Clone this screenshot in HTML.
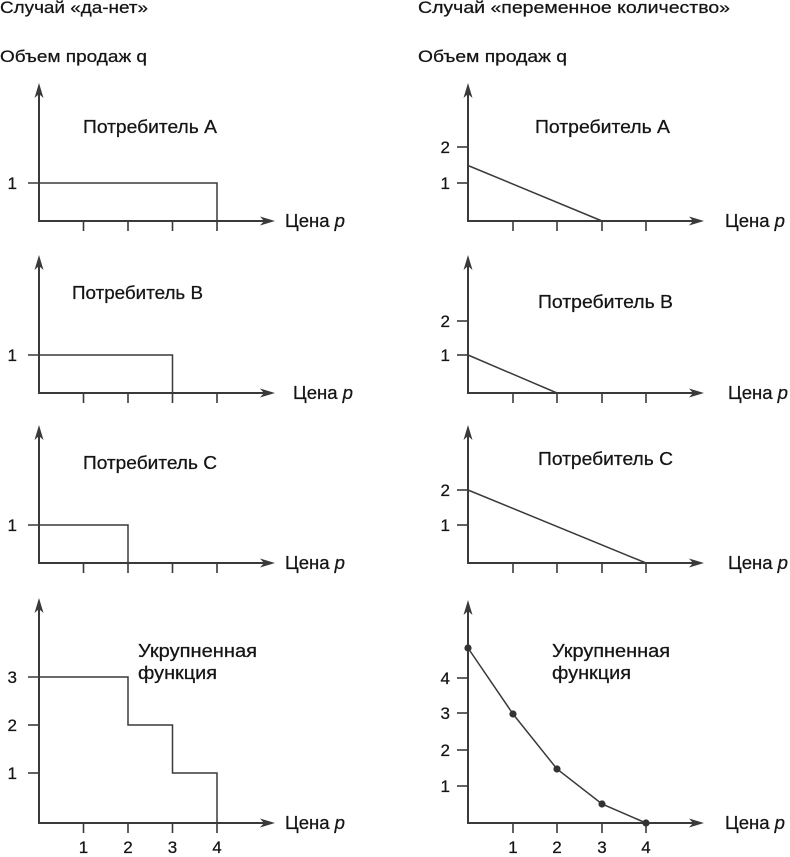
<!DOCTYPE html>
<html>
<head>
<meta charset="utf-8">
<style>
  html, body { margin: 0; padding: 0; background: #ffffff; }
  svg { display: block; }
  text { font-family: "Liberation Sans", "DejaVu Sans", sans-serif; fill: #151515; stroke: #151515; stroke-width: 0.25; }
  .ttl { font-size: 17px; }
  .lbl { font-size: 18px; }
  .num { font-size: 17px; }
  .ax { stroke: #3a3a3a; stroke-width: 2; fill: none; }
  .tk { stroke: #3a3a3a; stroke-width: 1.6; fill: none; }
  .ln { stroke: #3a3a3a; stroke-width: 1.5; fill: none; }
  .ah { fill: #3a3a3a; stroke: none; }
</style>
</head>
<body>
<svg width="790" height="857" viewBox="0 0 790 857" xmlns="http://www.w3.org/2000/svg">
  <defs>
    <path id="arR" d="M0,0 L-15,-4.5 L-11,0 L-15,4.5 Z"/>
    <path id="arU" d="M0,0 L-4.5,15 L0,11 L4.5,15 Z"/>
  </defs>

  <!-- Titles -->
  <text class="ttl" x="0" y="13" textLength="148" lengthAdjust="spacingAndGlyphs">Случай «да-нет»</text>
  <text class="ttl" x="0" y="62" textLength="147" lengthAdjust="spacingAndGlyphs">Объем продаж q</text>
  <text class="ttl" x="418" y="13" textLength="312" lengthAdjust="spacingAndGlyphs">Случай «переменное количество»</text>
  <text class="ttl" x="418" y="62" textLength="149" lengthAdjust="spacingAndGlyphs">Объем продаж q</text>

  <!-- ================= LEFT COLUMN ================= -->
  <!-- Panel A left -->
  <g>
    <line class="ax" x1="39" y1="90" x2="39" y2="221"/>
    <line class="ax" x1="38" y1="221" x2="266" y2="221"/>
    <use href="#arU" class="ah" x="39" y="83"/>
    <use href="#arR" class="ah" x="275" y="221"/>
    <line class="tk" x1="83.5" y1="221" x2="83.5" y2="231"/>
    <line class="tk" x1="128" y1="221" x2="128" y2="231"/>
    <line class="tk" x1="172.5" y1="221" x2="172.5" y2="231"/>
    <line class="tk" x1="217" y1="221" x2="217" y2="231"/>
    <polyline class="ln" points="28,183 217,183 217,221"/>
    <text class="num" x="17" y="189" text-anchor="end">1</text>
    <text class="lbl" x="83" y="133" textLength="134" lengthAdjust="spacingAndGlyphs">Потребитель А</text>
    <text class="lbl" x="285" y="227" textLength="60" lengthAdjust="spacingAndGlyphs">Цена <tspan font-style="italic">p</tspan></text>
  </g>

  <!-- Panel B left -->
  <g>
    <line class="ax" x1="39" y1="262" x2="39" y2="393"/>
    <line class="ax" x1="38" y1="393" x2="266" y2="393"/>
    <use href="#arU" class="ah" x="39" y="255"/>
    <use href="#arR" class="ah" x="275" y="393"/>
    <line class="tk" x1="83.5" y1="393" x2="83.5" y2="403"/>
    <line class="tk" x1="128" y1="393" x2="128" y2="403"/>
    <line class="tk" x1="172.5" y1="393" x2="172.5" y2="403"/>
    <line class="tk" x1="217" y1="393" x2="217" y2="403"/>
    <polyline class="ln" points="28,355 172.5,355 172.5,393"/>
    <text class="num" x="17" y="361" text-anchor="end">1</text>
    <text class="lbl" x="72" y="299" textLength="131" lengthAdjust="spacingAndGlyphs">Потребитель В</text>
    <text class="lbl" x="293" y="399" textLength="60" lengthAdjust="spacingAndGlyphs">Цена <tspan font-style="italic">p</tspan></text>
  </g>

  <!-- Panel C left -->
  <g>
    <line class="ax" x1="39" y1="432" x2="39" y2="563"/>
    <line class="ax" x1="38" y1="563" x2="266" y2="563"/>
    <use href="#arU" class="ah" x="39" y="425"/>
    <use href="#arR" class="ah" x="275" y="563"/>
    <line class="tk" x1="83.5" y1="563" x2="83.5" y2="573"/>
    <line class="tk" x1="128" y1="563" x2="128" y2="573"/>
    <line class="tk" x1="172.5" y1="563" x2="172.5" y2="573"/>
    <line class="tk" x1="217" y1="563" x2="217" y2="573"/>
    <polyline class="ln" points="28,525 128,525 128,563"/>
    <text class="num" x="17" y="531" text-anchor="end">1</text>
    <text class="lbl" x="83" y="469" textLength="134" lengthAdjust="spacingAndGlyphs">Потребитель С</text>
    <text class="lbl" x="285" y="569" textLength="60" lengthAdjust="spacingAndGlyphs">Цена <tspan font-style="italic">p</tspan></text>
  </g>

  <!-- Panel D left -->
  <g>
    <line class="ax" x1="39" y1="605" x2="39" y2="823"/>
    <line class="ax" x1="38" y1="823" x2="266" y2="823"/>
    <use href="#arU" class="ah" x="39" y="598"/>
    <use href="#arR" class="ah" x="275" y="823"/>
    <line class="tk" x1="83.5" y1="823" x2="83.5" y2="833"/>
    <line class="tk" x1="128" y1="823" x2="128" y2="833"/>
    <line class="tk" x1="172.5" y1="823" x2="172.5" y2="833"/>
    <line class="tk" x1="217" y1="823" x2="217" y2="833"/>
    <line class="tk" x1="28" y1="725" x2="39" y2="725"/>
    <line class="tk" x1="28" y1="773" x2="39" y2="773"/>
    <polyline class="ln" points="28,677 128,677 128,725 172.5,725 172.5,773 217,773 217,823"/>
    <text class="num" x="17" y="683" text-anchor="end">3</text>
    <text class="num" x="17" y="731" text-anchor="end">2</text>
    <text class="num" x="17" y="779" text-anchor="end">1</text>
    <text class="num" x="83.5" y="853" text-anchor="middle">1</text>
    <text class="num" x="128" y="853" text-anchor="middle">2</text>
    <text class="num" x="172.5" y="853" text-anchor="middle">3</text>
    <text class="num" x="217" y="853" text-anchor="middle">4</text>
    <text class="lbl" x="138" y="657" textLength="119" lengthAdjust="spacingAndGlyphs">Укрупненная</text>
    <text class="lbl" x="138" y="679" textLength="79" lengthAdjust="spacingAndGlyphs">функция</text>
    <text class="lbl" x="285" y="829" textLength="60" lengthAdjust="spacingAndGlyphs">Цена <tspan font-style="italic">p</tspan></text>
  </g>

  <!-- ================= RIGHT COLUMN ================= -->
  <!-- Panel A right -->
  <g>
    <line class="ax" x1="468" y1="90" x2="468" y2="221"/>
    <line class="ax" x1="467" y1="221" x2="695" y2="221"/>
    <use href="#arU" class="ah" x="468" y="83"/>
    <use href="#arR" class="ah" x="704" y="221"/>
    <line class="tk" x1="513" y1="221" x2="513" y2="231"/>
    <line class="tk" x1="557" y1="221" x2="557" y2="231"/>
    <line class="tk" x1="602" y1="221" x2="602" y2="231"/>
    <line class="tk" x1="646" y1="221" x2="646" y2="231"/>
    <line class="tk" x1="457" y1="147" x2="468" y2="147"/>
    <line class="tk" x1="457" y1="183" x2="468" y2="183"/>
    <polyline class="ln" points="468,165.5 602,221"/>
    <text class="num" x="450" y="153" text-anchor="end">2</text>
    <text class="num" x="450" y="189" text-anchor="end">1</text>
    <text class="lbl" x="535" y="133" textLength="135" lengthAdjust="spacingAndGlyphs">Потребитель А</text>
    <text class="lbl" x="725" y="227" textLength="60" lengthAdjust="spacingAndGlyphs">Цена <tspan font-style="italic">p</tspan></text>
  </g>

  <!-- Panel B right -->
  <g>
    <line class="ax" x1="468" y1="262" x2="468" y2="393"/>
    <line class="ax" x1="467" y1="393" x2="695" y2="393"/>
    <use href="#arU" class="ah" x="468" y="255"/>
    <use href="#arR" class="ah" x="704" y="393"/>
    <line class="tk" x1="513" y1="393" x2="513" y2="403"/>
    <line class="tk" x1="557" y1="393" x2="557" y2="403"/>
    <line class="tk" x1="602" y1="393" x2="602" y2="403"/>
    <line class="tk" x1="646" y1="393" x2="646" y2="403"/>
    <line class="tk" x1="457" y1="321" x2="468" y2="321"/>
    <line class="tk" x1="457" y1="355" x2="468" y2="355"/>
    <polyline class="ln" points="468,355 557,393"/>
    <text class="num" x="450" y="327" text-anchor="end">2</text>
    <text class="num" x="450" y="361" text-anchor="end">1</text>
    <text class="lbl" x="538" y="308" textLength="135" lengthAdjust="spacingAndGlyphs">Потребитель В</text>
    <text class="lbl" x="728" y="399" textLength="60" lengthAdjust="spacingAndGlyphs">Цена <tspan font-style="italic">p</tspan></text>
  </g>

  <!-- Panel C right -->
  <g>
    <line class="ax" x1="468" y1="432" x2="468" y2="563"/>
    <line class="ax" x1="467" y1="563" x2="695" y2="563"/>
    <use href="#arU" class="ah" x="468" y="425"/>
    <use href="#arR" class="ah" x="704" y="563"/>
    <line class="tk" x1="513" y1="563" x2="513" y2="573"/>
    <line class="tk" x1="557" y1="563" x2="557" y2="573"/>
    <line class="tk" x1="602" y1="563" x2="602" y2="573"/>
    <line class="tk" x1="646" y1="563" x2="646" y2="573"/>
    <line class="tk" x1="457" y1="490" x2="468" y2="490"/>
    <line class="tk" x1="457" y1="525" x2="468" y2="525"/>
    <polyline class="ln" points="468,490 646,563"/>
    <text class="num" x="450" y="496" text-anchor="end">2</text>
    <text class="num" x="450" y="531" text-anchor="end">1</text>
    <text class="lbl" x="538" y="465" textLength="135" lengthAdjust="spacingAndGlyphs">Потребитель С</text>
    <text class="lbl" x="728" y="569" textLength="60" lengthAdjust="spacingAndGlyphs">Цена <tspan font-style="italic">p</tspan></text>
  </g>

  <!-- Panel D right -->
  <g>
    <line class="ax" x1="468" y1="607" x2="468" y2="823"/>
    <line class="ax" x1="467" y1="823" x2="695" y2="823"/>
    <use href="#arU" class="ah" x="468" y="600"/>
    <use href="#arR" class="ah" x="704" y="823"/>
    <line class="tk" x1="513" y1="823" x2="513" y2="833"/>
    <line class="tk" x1="557" y1="823" x2="557" y2="833"/>
    <line class="tk" x1="602" y1="823" x2="602" y2="833"/>
    <line class="tk" x1="646" y1="823" x2="646" y2="833"/>
    <line class="tk" x1="457" y1="678" x2="468" y2="678"/>
    <line class="tk" x1="457" y1="713" x2="468" y2="713"/>
    <line class="tk" x1="457" y1="750" x2="468" y2="750"/>
    <line class="tk" x1="457" y1="786" x2="468" y2="786"/>
    <polyline class="ln" points="468,648 513,714 557,769 602,804 646,823"/>
    <circle cx="468" cy="648" r="3.6" fill="#333"/>
    <circle cx="513" cy="714" r="3.6" fill="#333"/>
    <circle cx="557" cy="769" r="3.6" fill="#333"/>
    <circle cx="602" cy="804" r="3.6" fill="#333"/>
    <circle cx="646" cy="823" r="3.6" fill="#333"/>
    <text class="num" x="450" y="684" text-anchor="end">4</text>
    <text class="num" x="450" y="719" text-anchor="end">3</text>
    <text class="num" x="450" y="756" text-anchor="end">2</text>
    <text class="num" x="450" y="792" text-anchor="end">1</text>
    <text class="num" x="513" y="853" text-anchor="middle">1</text>
    <text class="num" x="557" y="853" text-anchor="middle">2</text>
    <text class="num" x="602" y="853" text-anchor="middle">3</text>
    <text class="num" x="646" y="853" text-anchor="middle">4</text>
    <text class="lbl" x="552" y="657" textLength="118" lengthAdjust="spacingAndGlyphs">Укрупненная</text>
    <text class="lbl" x="552" y="679" textLength="79" lengthAdjust="spacingAndGlyphs">функция</text>
    <text class="lbl" x="725" y="829" textLength="60" lengthAdjust="spacingAndGlyphs">Цена <tspan font-style="italic">p</tspan></text>
  </g>
</svg>
</body>
</html>
